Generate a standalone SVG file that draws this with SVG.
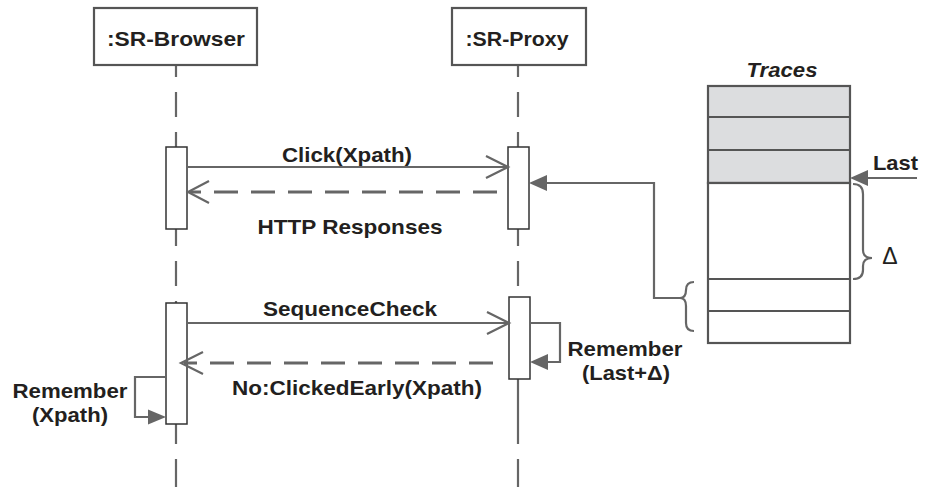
<svg xmlns="http://www.w3.org/2000/svg" width="926" height="487" viewBox="0 0 926 487">
<style>
.t{font-family:"Liberation Sans",Arial,sans-serif;font-weight:bold;font-size:21px;fill:#231f20}
.head{fill:#fff;stroke:#555;stroke-width:2.2}
.act{fill:#fff;stroke:#333;stroke-width:1.5}
.life{stroke:#666;stroke-width:2.2;fill:none}
.msg{stroke:#666;stroke-width:2.2;fill:none}
.ret{stroke:#666;stroke-width:3;fill:none;stroke-dasharray:24 13}
.fill{fill:#666;stroke:none}
.cell{stroke:#555;stroke-width:2.2}
</style>
<rect width="926" height="487" fill="#fff"/>

<g id="lifelines">
  <path class="life" d="M176,65V77M176,92V117M176,132V147M176,229V246M176,261V286M176,301V303M176,424V444M176,459V487"/>
  <path class="life" d="M518,65V77M518,92V117M518,132V147M518,229V246M518,261V286M518,379V444M518,459V487"/>
</g>

<g id="browser">
  <rect class="head" x="94" y="8" width="163" height="57"/>
  <text class="t" x="176" y="46" text-anchor="middle" textLength="138" lengthAdjust="spacingAndGlyphs">:SR-Browser</text>
  <rect class="act" x="166" y="147" width="21" height="82"/>
  <rect class="act" x="166" y="303" width="21" height="121"/>
</g>

<g id="proxy">
  <rect class="head" x="452" y="8" width="134" height="57"/>
  <text class="t" x="517" y="46" text-anchor="middle" textLength="103" lengthAdjust="spacingAndGlyphs">:SR-Proxy</text>
  <rect class="act" x="508" y="147" width="21" height="82"/>
  <rect class="act" x="509" y="297" width="21" height="82"/>
</g>

<g id="traces">
  <text class="t" x="782" y="77" text-anchor="middle" font-style="italic" textLength="71" lengthAdjust="spacingAndGlyphs">Traces</text>
  <rect class="cell" x="708" y="86" width="142" height="97" fill="#dcdddf"/>
  <rect class="cell" x="708" y="183" width="142" height="160" fill="#fff"/>
  <path class="cell" d="M708,117H850M708,150H850M708,279H850M708,311H850" fill="none"/>
</g>

<g id="connectors">
  <path class="msg" d="M187,167H507M486,156L508,167L486,178"/>
  <text class="t" x="347" y="162" text-anchor="middle" textLength="130" lengthAdjust="spacingAndGlyphs">Click(Xpath)</text>
  <path class="ret" d="M497,192H190"/>
  <path class="msg" d="M209,181L188,192L209,203"/>
  <text class="t" x="350" y="234" text-anchor="middle" textLength="185" lengthAdjust="spacingAndGlyphs">HTTP Responses</text>
  <path class="msg" d="M187,323H508M487,312L509,323L487,334"/>
  <text class="t" x="350" y="316" text-anchor="middle" textLength="174" lengthAdjust="spacingAndGlyphs">SequenceCheck</text>
  <path class="ret" stroke-width="3.5" d="M493,363H184"/>
  <path class="msg" stroke-width="2.6" d="M203,352L181,363L203,374"/>
  <text class="t" x="357" y="395" text-anchor="middle" textLength="250" lengthAdjust="spacingAndGlyphs">No:ClickedEarly(Xpath)</text>
  <path class="msg" d="M530,323H560V362H545"/>
  <path class="fill" d="M530,362L548,354L548,370Z"/>
  <text class="t" x="625" y="356" text-anchor="middle" textLength="115" lengthAdjust="spacingAndGlyphs">Remember</text>
  <text class="t" x="626" y="380" text-anchor="middle" textLength="88" lengthAdjust="spacingAndGlyphs">(Last+Δ)</text>
  <path class="msg" d="M166,377H135V417H150"/>
  <path class="fill" d="M166,417L148,409.5L148,424.5Z"/>
  <text class="t" x="70" y="398" text-anchor="middle" textLength="115" lengthAdjust="spacingAndGlyphs">Remember</text>
  <text class="t" x="70" y="422" text-anchor="middle" textLength="76" lengthAdjust="spacingAndGlyphs">(Xpath)</text>
  <path class="msg" d="M545,183H654V298H681"/>
  <path class="fill" d="M529,183L547,175L547,191Z"/>
  <path class="msg" d="M694,282Q686,282 686,290Q686,298 680,298Q686,298 686,306L686,323Q686,331 694,331"/>
  <path class="msg" d="M917,178H866"/>
  <path class="fill" d="M850,178L868,170L868,186Z"/>
  <text class="t" x="873" y="170" textLength="45" lengthAdjust="spacingAndGlyphs">Last</text>
  <path class="msg" d="M853,184Q863,184 863,194L863,250Q863,258 872,258Q863,258 863,266L863,270Q863,279 853,279"/>
  <text x="890" y="264" text-anchor="middle" style="font-family:'Liberation Sans',Arial,sans-serif;font-size:23px;fill:#231f20">Δ</text>
</g>
</svg>
